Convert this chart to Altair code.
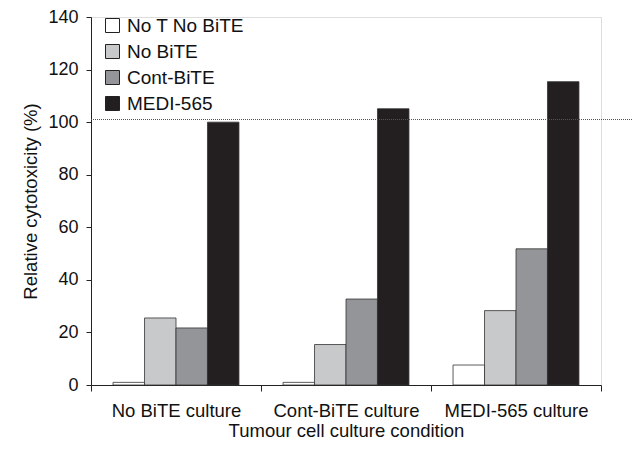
import altair as alt
import pandas as pd

groups = ["No BiTE culture", "Cont-BiTE culture", "MEDI-565 culture"]
series = ["No T No BiTE", "No BiTE", "Cont-BiTE", "MEDI-565"]
colors = ["#ffffff", "#c8c9cb", "#949599", "#231f20"]
no_t_no_bite = [1.0, 1.0, 7.6]
no_bite = [25.5, 15.4, 28.3]
cont_bite = [21.7, 32.7, 51.8]
medi_565 = [100.0, 105.1, 115.4]
ref_line = [101.0]
y_ticks = [0, 20, 40, 60, 80, 100, 120, 140]

rows = []
for s, vals in zip(series, [no_t_no_bite, no_bite, cont_bite, medi_565]):
    for g, v in zip(groups, vals):
        rows.append({"group": g, "series": s, "value": v})
df = pd.DataFrame(rows)
ref_df = pd.DataFrame({"y": ref_line})

FONT = "Liberation Sans"
W, H = 510, 368

bars = alt.Chart(df).mark_bar(stroke="#333333", strokeWidth=0.8).encode(
    x=alt.X(
        "group:N",
        sort=groups,
        scale=alt.Scale(paddingInner=0, paddingOuter=0),
        axis=alt.Axis(
            title="Tumour cell culture condition",
            labelAngle=0,
            tickBand="extent",
            tickSize=6,
            labelPadding=10,
            labelFontSize=18.5,
            titleFontSize=18.5,
            titleFontWeight="normal",
            titleX=W / 2,
            titleY=51,
            titleBaseline="alphabetic",
            domainColor="#222222",
            tickColor="#222222",
            labelColor="#111111",
            titleColor="#111111",
            grid=False,
        ),
    ),
    xOffset=alt.XOffset(
        "series:N",
        sort=series,
        scale=alt.Scale(paddingInner=0, paddingOuter=0.7),
    ),
    y=alt.Y(
        "value:Q",
        scale=alt.Scale(domain=[0, 140], nice=False),
        axis=alt.Axis(
            title="Relative cytotoxicity (%)",
            values=y_ticks,
            tickSize=5,
            labelPadding=8,
            labelFontSize=18,
            titleFontSize=18.5,
            titleFontWeight="normal",
            titleX=-61,
            titleY=H / 2,
            titleAngle=270,
            titleBaseline="middle",
            titleAlign="center",
            domainColor="#222222",
            tickColor="#222222",
            labelColor="#111111",
            titleColor="#111111",
            grid=False,
        ),
    ),
    fill=alt.Fill(
        "series:N",
        sort=series,
        scale=alt.Scale(domain=series, range=colors),
        legend=alt.Legend(
            title=None,
            orient="none",
            legendX=12,
            legendY=-1,
            padding=0,
            symbolType="square",
            symbolSize=196,
            symbolStrokeColor="#222222",
            symbolStrokeWidth=1,
            labelFontSize=19,
            labelColor="#111111",
            labelOffset=5,
            rowPadding=6,
        ),
    ),
)

rule = alt.Chart(ref_df).mark_rule(
    color="#555555", strokeWidth=1, strokeDash=[1, 1]
).encode(
    y="y:Q",
    x=alt.value(0),
    x2=alt.value(542),
)

chart = alt.layer(bars, rule).properties(
    width=W,
    height=H,
    autosize=alt.AutoSizeParams(type="none"),
    padding={"left": 83, "top": 9, "right": 34, "bottom": 56},
).configure_view(stroke=None).configure(font=FONT)

chart.save("out.html", embed_options={"renderer": "svg", "actions": False})
